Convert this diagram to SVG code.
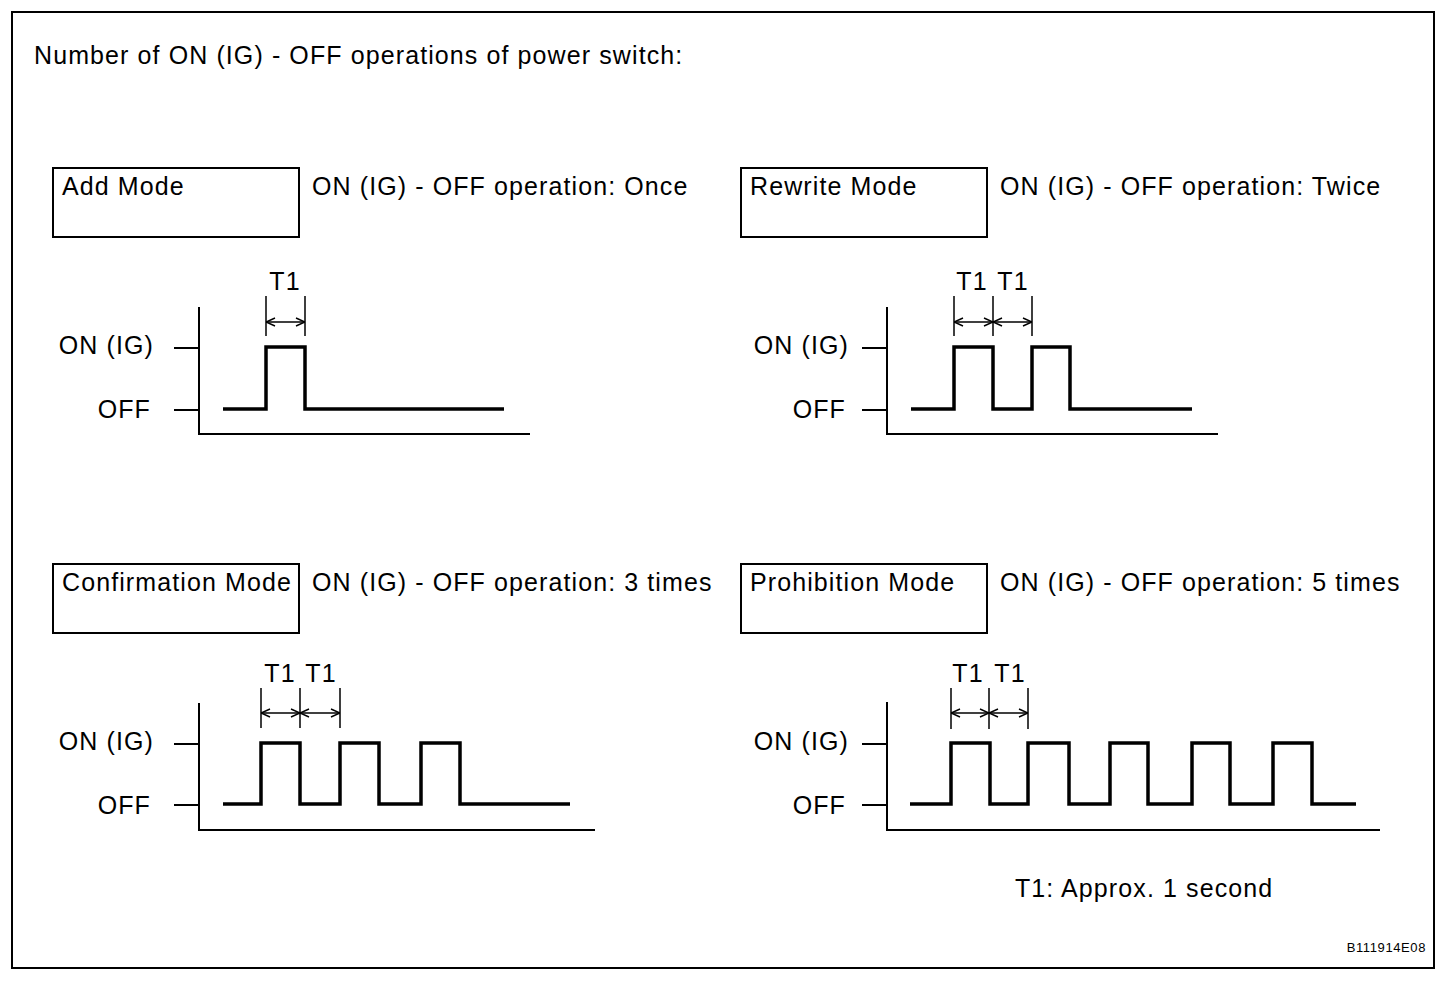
<svg xmlns="http://www.w3.org/2000/svg" width="1456" height="982" viewBox="0 0 1456 982">
<defs>
<style>
text{font-family:"Liberation Sans",Arial,sans-serif;font-size:25px;letter-spacing:1.1px;fill:#000}
.r{text-anchor:end}
.m{text-anchor:middle}
.box{fill:none;stroke:#000;stroke-width:2}
.ax{fill:none;stroke:#000;stroke-width:2}
.sig{fill:none;stroke:#000;stroke-width:3.5;stroke-linejoin:miter}
.dim{fill:none;stroke:#000;stroke-width:1.5}
.arr{fill:none;stroke:#000;stroke-width:1.5;marker-start:url(#ah);marker-end:url(#ah)}
</style>
<marker id="ah" viewBox="0 0 10 10" refX="10" refY="5" markerWidth="10" markerHeight="10" markerUnits="userSpaceOnUse" orient="auto-start-reverse">
<path d="M1,1 L10,5 L1,9" fill="none" stroke="#000" stroke-width="1.5"/>
</marker>
</defs>
<rect width="1456" height="982" fill="#fff"/>
<rect x="12" y="12" width="1422" height="956" fill="none" stroke="#000" stroke-width="2"/>
<text x="34" y="64">Number of ON (IG) - OFF operations of power switch:</text>

<g id="add-mode">
<rect class="box" x="53" y="168" width="246" height="69"/>
<text x="62" y="195">Add Mode</text>
<text x="312" y="195">ON (IG) - OFF operation: Once</text>
<text class="r" x="154" y="354">ON (IG)</text>
<text class="r" x="151" y="418">OFF</text>
<path class="ax" d="M199,307 V434 H530 M174,348 H199 M174,410 H199"/>
<path class="sig" d="M223,409 H266 V347 H305 V409 H504"/>
<path class="dim" d="M266,296 V336 M305,296 V336"/>
<path class="arr" d="M266,322 H305"/>
<text class="m" x="285" y="290">T1</text>
</g>

<g id="rewrite-mode">
<rect class="box" x="741" y="168" width="246" height="69"/>
<text x="750" y="195">Rewrite Mode</text>
<text x="1000" y="195">ON (IG) - OFF operation: Twice</text>
<text class="r" x="849" y="354">ON (IG)</text>
<text class="r" x="846" y="418">OFF</text>
<path class="ax" d="M887,307 V434 H1218 M862,348 H887 M862,410 H887"/>
<path class="sig" d="M911,409 H954 V347 H993 V409 H1032 V347 H1070 V409 H1192"/>
<path class="dim" d="M954,296 V336 M993,296 V336 M1032,296 V336"/>
<path class="arr" d="M954,322 H993"/>
<path class="arr" d="M993,322 H1032"/>
<text class="m" x="972" y="290">T1</text>
<text class="m" x="1013" y="290">T1</text>
</g>

<g id="confirmation-mode">
<rect class="box" x="53" y="564" width="246" height="69"/>
<text x="62" y="591">Confirmation Mode</text>
<text x="312" y="591">ON (IG) - OFF operation: 3 times</text>
<text class="r" x="154" y="750">ON (IG)</text>
<text class="r" x="151" y="814">OFF</text>
<path class="ax" d="M199,703 V830 H595 M174,744 H199 M174,805 H199"/>
<path class="sig" d="M223,804 H261 V743 H300 V804 H340 V743 H379 V804 H421 V743 H460 V804 H570"/>
<path class="dim" d="M261,688 V728 M300,688 V728 M340,688 V728"/>
<path class="arr" d="M261,713 H300"/>
<path class="arr" d="M300,713 H340"/>
<text class="m" x="280" y="682">T1</text>
<text class="m" x="321" y="682">T1</text>
</g>

<g id="prohibition-mode">
<rect class="box" x="741" y="564" width="246" height="69"/>
<text x="750" y="591">Prohibition Mode</text>
<text x="1000" y="591">ON (IG) - OFF operation: 5 times</text>
<text class="r" x="849" y="750">ON (IG)</text>
<text class="r" x="846" y="814">OFF</text>
<path class="ax" d="M887,702 V830 H1380 M862,744 H887 M862,805 H887"/>
<path class="sig" d="M910,804 H951 V743 H990 V804 H1028 V743 H1069 V804 H1110 V743 H1148 V804 H1192 V743 H1230 V804 H1273 V743 H1312 V804 H1356"/>
<path class="dim" d="M951,688 V729 M989,688 V729 M1028,688 V729"/>
<path class="arr" d="M951,713 H989"/>
<path class="arr" d="M989,713 H1028"/>
<text class="m" x="968" y="682">T1</text>
<text class="m" x="1010" y="682">T1</text>
</g>

<text x="1015" y="897">T1: Approx. 1 second</text>
<text class="r" x="1426" y="952" style="font-size:13px;letter-spacing:0.6px">B111914E08</text>
</svg>
